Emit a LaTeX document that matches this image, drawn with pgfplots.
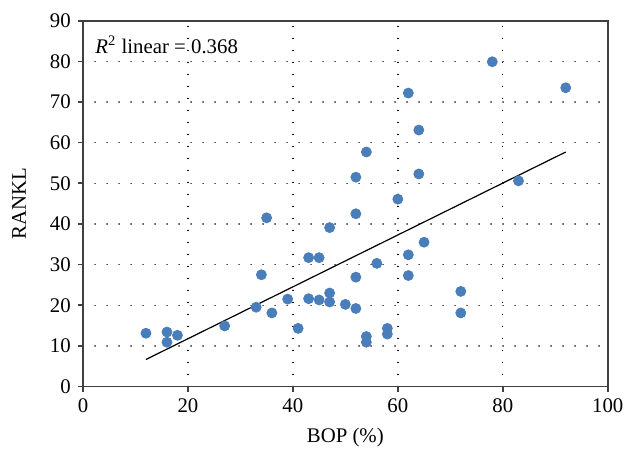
\documentclass[border=0pt]{standalone}
\usepackage{fontspec}
\setmainfont{Liberation Serif}
\usepackage{pgfplots}
\pgfplotsset{compat=1.18}
\definecolor{dotblue}{HTML}{4A7EBB}
\definecolor{framegray}{HTML}{404040}

\begin{document}
\begin{tikzpicture}
  % page size: 624x449 px at 0.5pt per px, axis box at the origin
  \useasboundingbox (-41.5pt,-31.25pt) rectangle (270.5pt,193.25pt);
  \begin{axis}[
    scale only axis,
    width=262.35pt, height=182.9pt,
    xmin=0, xmax=100, ymin=0, ymax=90,
    xtick={0,20,...,100},
    ytick={0,10,...,90},
    tick pos=left,
    tick align=outside,
    major tick length=2.6pt,
    tick style={framegray, line width=0.8pt},
    axis line style={framegray, line width=0.85pt},
    grid=major,
    major grid style={black, line width=0.7pt, line cap=round,
                      dash pattern=on 0.05pt off 5.95pt},
    /pgf/number format/assume math mode=true,
    tick label style={font=\fontsize{10.4}{12}\selectfont},
    label style={font=\fontsize{10.4}{12}\selectfont},
    xlabel={BOP (\%)},
    ylabel={RANKL},
    xlabel style={at={(axis description cs:0.5,0)}, anchor=center, yshift=-25.5pt},
    ylabel style={at={(axis description cs:0,0.5)}, anchor=center, yshift=32pt},
    clip=false,
  ]
    % observed points
    \addplot[only marks, mark=*, mark size=2.5pt, color=dotblue,
             mark options={fill=dotblue, draw=dotblue}]
    coordinates {
      (12,13.1) (16,13.4) (16,10.9) (18,12.6) (27,14.9)
      (33,19.5) (34,27.5) (35,41.5) (36,18.1) (39,21.5)
      (41,14.3) (43,31.7) (43,21.6) (45,31.7) (45,21.3)
      (47,39.1) (47,23.0) (47,20.8) (50,20.2) (52,42.5)
      (52,51.5) (52,26.9) (52,19.2) (54,57.7) (54,12.3)
      (54,10.9) (56,30.3) (58,14.3) (58,12.9) (60,46.1)
      (62,72.2) (62,32.4) (62,27.3) (64,63.1) (64,52.3)
      (65,35.5) (72,23.4) (72,18.1) (78,79.9) (83,50.6)
      (92,73.5)
    };
    % linear fit
    \addplot[black, line width=0.6pt] coordinates {(12,6.65) (92,57.7)};
    \node[anchor=west, inner sep=0pt, font=\fontsize{10.4}{12}\selectfont]
      at (rel axis cs:0.023,0.934) {\textit{R}\textsuperscript{2} linear = 0.368};
  \end{axis}
\end{tikzpicture}
\end{document}
